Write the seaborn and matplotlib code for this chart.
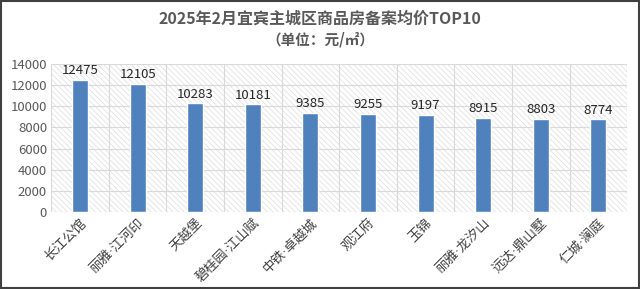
import matplotlib
matplotlib.use("Agg")
import matplotlib.pyplot as plt
import seaborn as sns
import pandas as pd
from matplotlib.patches import Rectangle

categories = ["长江公馆", "丽雅·江河印", "天越堡", "碧桂园·江山赋", "中铁·卓越城",
              "观江府", "玉锦", "丽雅·龙汐山", "远达·鼎山墅", "仁城·澜庭"]
values = [12475, 12105, 10283, 10181, 9385, 9255, 9197, 8915, 8803, 8774]
yticks = [0, 2000, 4000, 6000, 8000, 10000, 12000, 14000]

sns.set_theme(style="white")
plt.rcParams['font.family'] = ['Noto Sans CJK SC', 'DejaVu Sans']
plt.rcParams['hatch.linewidth'] = 0.5
plt.rcParams['hatch.color'] = '#D9D9D9'

fig = plt.figure(figsize=(6.4, 2.89), dpi=100)
fig.patch.set_facecolor('white')
ax = fig.add_axes([0.080, 0.266, 0.900, 0.513])

df = pd.DataFrame({"cat": categories, "val": values})
sns.barplot(data=df, x="cat", y="val", color="#4F81BD", saturation=1, width=0.28, ax=ax, zorder=3)

ax.set_ylim(0, 14000)
ax.set_xlim(-0.5, len(categories) - 0.5)
ax.set_yticks(yticks)
ax.set_yticklabels([str(v) for v in yticks], fontsize=9.5, color='#595959')
ax.set_xlabel("")
ax.set_ylabel("")

# hatched background
ax.add_patch(Rectangle((0, 0), 1, 1, transform=ax.transAxes, facecolor='white',
                       edgecolor='#DDDDDD', hatch='\\\\\\\\\\\\', linewidth=0, zorder=0))
# grid lines
for yv in yticks:
    ax.axhline(yv, color='#D9D9D9', linewidth=0.8, zorder=1)
for i in range(len(categories) + 1):
    ax.axvline(i - 0.5, color='#D9D9D9', linewidth=0.8, zorder=1)

for s in ax.spines.values():
    s.set_visible(False)
ax.tick_params(axis='both', length=0, pad=3)

ax.set_xticks(range(len(categories)))
ax.set_xticklabels(categories, rotation=45, ha='right', rotation_mode='anchor',
                   fontsize=9.5, color='#404040', family=['DejaVu Sans', 'Noto Sans CJK SC'])

for i, v in enumerate(values):
    ax.text(i, v + 250, str(v), ha='center', va='bottom', fontsize=9.5, color='#262626', zorder=4)

fig.text(0.5, 0.935, "2025年2月宜宾主城区商品房备案均价TOP10", ha='center', va='center',
         fontsize=11.5, fontweight='bold', color='#595959')
fig.text(0.5, 0.862, "（单位：元/㎡）", ha='center', va='center',
         fontsize=10.5, fontweight='bold', color='#595959')

# outer border
fig.add_artist(Rectangle((0.001, 0.002), 0.997, 0.995, transform=fig.transFigure,
                         fill=False, edgecolor='#404040', linewidth=1.5))

fig.savefig("out.png", dpi=100)
